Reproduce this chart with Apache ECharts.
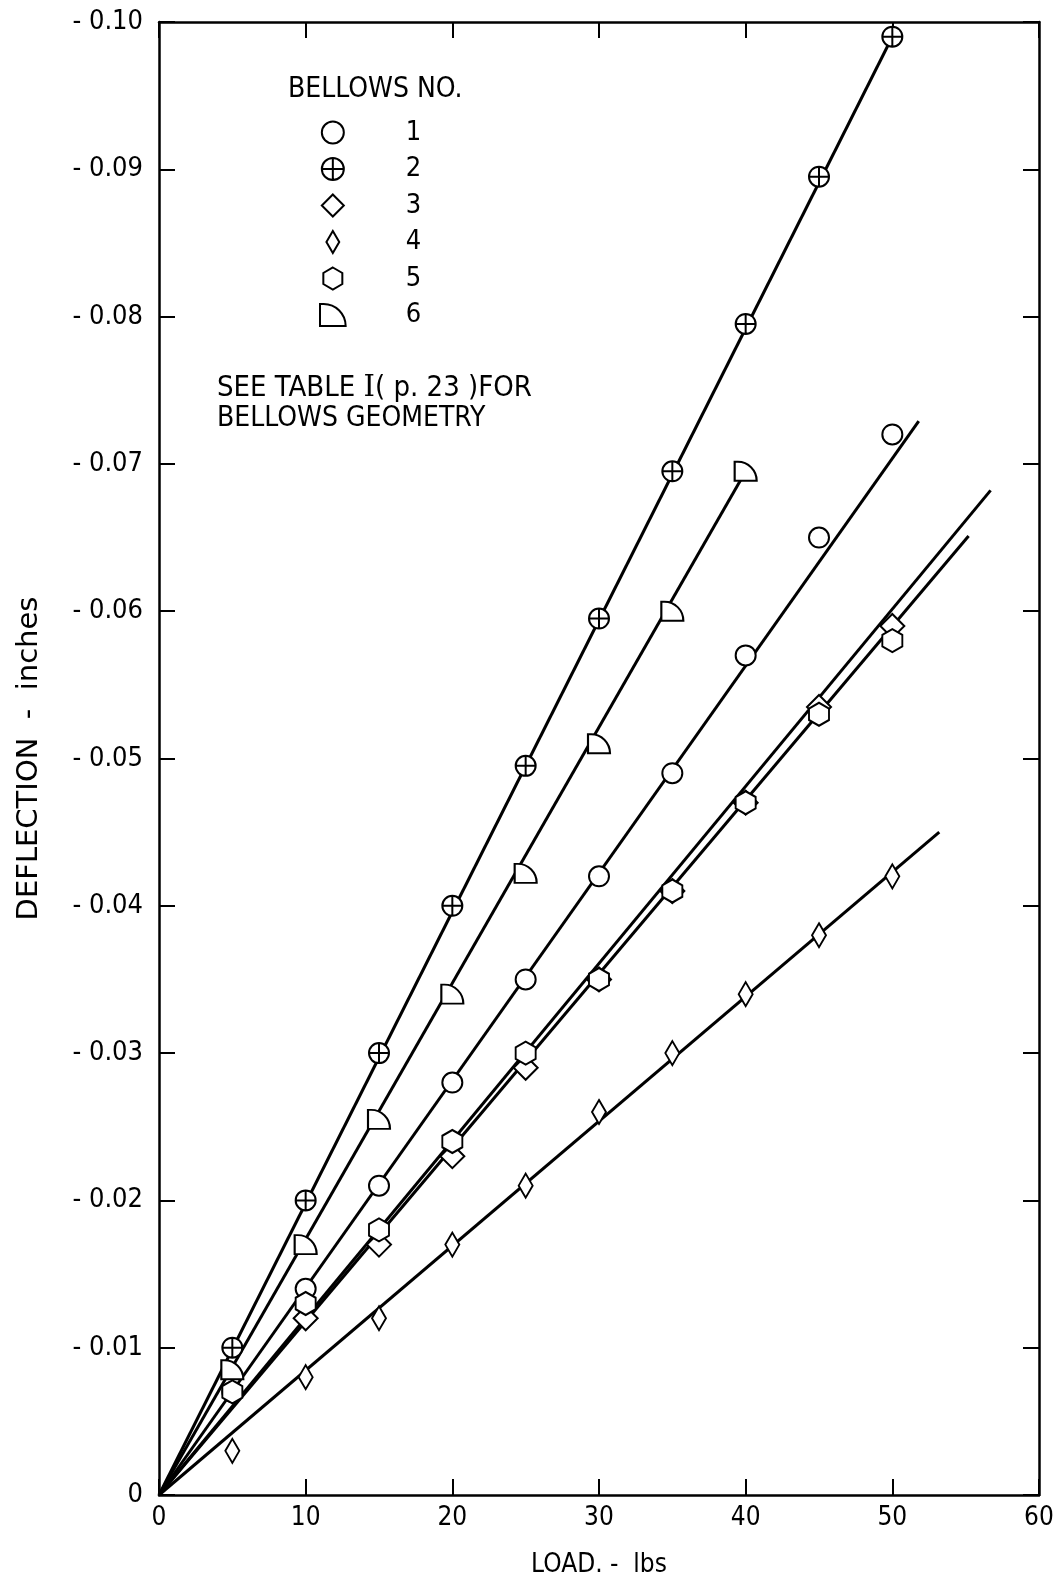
<!DOCTYPE html>
<html>
<head>
<meta charset="utf-8">
<title>Bellows deflection vs load</title>
<script src="https://cdn.jsdelivr.net/npm/echarts@6/dist/echarts.min.js"></script>
<style>
  html, body { margin: 0; padding: 0; background: #fff; }
  #chart { width: 1058px; height: 1583px; }
</style>
</head>
<body>
<div id="chart"></div>
<script>
// Load applied to each bellows (lbs)
const loads = [5, 10, 15, 20, 25, 30, 35, 40, 45, 50];

// Measured deflection (inches) per bellows, one value per load
const bellows1 = [-0.007, -0.014, -0.021, -0.028, -0.035, -0.042, -0.049, -0.057, -0.065, -0.072];
const bellows2 = [-0.010, -0.020, -0.030, -0.040, -0.0495, -0.0595, -0.0695, -0.0795, -0.0895, -0.099];
const bellows3 = [null, -0.012, -0.017, -0.023, -0.029, -0.035, -0.041, -0.047, -0.0535, -0.059];
const bellows4 = [-0.003, -0.008, -0.012, -0.017, -0.021, -0.026, -0.030, -0.034, -0.038, -0.042];
const bellows5 = [-0.007, -0.013, -0.018, -0.024, -0.030, -0.035, -0.041, -0.047, -0.053, -0.058];
const bellows6 = [-0.0085, -0.017, -0.0255, -0.034, -0.0422, -0.051, -0.060, -0.0695];

// Straight-line fits through the origin: far end of each line [load, deflection]
const fitEnd1 = [51.8, -0.0729];
const fitEnd2 = [50, -0.099];
const fitEnd3 = [55.2, -0.0651];
const fitEnd4 = [53.2, -0.045];
const fitEnd5 = [56.7, -0.0682];
const fitEnd6 = [40, -0.0695];

// Axis tick values
const xTicks = [0, 10, 20, 30, 40, 50, 60];
const yTicks = [0, -0.01, -0.02, -0.03, -0.04, -0.05, -0.06, -0.07, -0.08, -0.09, -0.10];

const NARROW = "'DejaVu Sans Condensed', 'Liberation Sans Narrow', 'Liberation Sans', sans-serif";
const WIDE = "'DejaVu Sans', 'Liberation Sans', sans-serif";
const INK = '#000';

// Marker shapes for each bellows
const SYM = {
  '1': 'path://M10,0A10,10 0 1 1 -10,0A10,10 0 1 1 10,0Z',
  '2': 'path://M10,0A10,10 0 1 1 -10,0A10,10 0 1 1 10,0Z M0,-10L0,10 M-10,0L10,0',
  '3': 'path://M0,-12L12,0L0,12L-12,0Z',
  '4': 'path://M0,-12L7,0L0,12L-7,0Z',
  '5': 'path://M0,-11L9.5,-5.5L9.5,5.5L0,11L-9.5,5.5L-9.5,-5.5Z',
  '6': 'path://M0,0L0,-18L3,-18A18,18 0 0 1 21,0Z'
};
const SIZE = { '1': 20, '2': 20, '3': [24, 24], '4': [14, 24], '5': [20, 23], '6': [22, 19] };

function pairs(vals) {
  const out = [];
  vals.forEach((v, i) => { if (v !== null) out.push([loads[i], v]); });
  return out;
}

const groups = [
  { name: '1', vals: bellows1, end: fitEnd1 },
  { name: '2', vals: bellows2, end: fitEnd2 },
  { name: '3', vals: bellows3, end: fitEnd3 },
  { name: '4', vals: bellows4, end: fitEnd4 },
  { name: '5', vals: bellows5, end: fitEnd5 },
  { name: '6', vals: bellows6, end: fitEnd6 }
];

const series = [];
groups.forEach(g => {
  series.push({
    name: 'fit' + g.name,
    type: 'line',
    data: [[0, 0], g.end],
    showSymbol: false,
    silent: true,
    z: 2,
    lineStyle: { color: INK, width: 3 }
  });
});
groups.forEach(g => {
  series.push({
    name: g.name,
    type: 'scatter',
    data: pairs(g.vals),
    symbol: SYM[g.name],
    symbolSize: SIZE[g.name],
    z: 5,
    itemStyle: { color: '#fff', borderColor: INK, borderWidth: 2, opacity: 1 }
  });
});

const axisLine = { show: true, onZero: false, lineStyle: { color: INK, width: 2.5 } };
const axisTick = { show: true, inside: true, length: 16, lineStyle: { color: INK, width: 2 } };

const chart = echarts.init(document.getElementById('chart'), null, { renderer: 'canvas' });
chart.setOption({
  backgroundColor: '#fff',
  animation: false,
  grid: { left: 159, top: 22, width: 880, height: 1474 },
  legend: {
    data: groups.map(g => g.name),
    orient: 'vertical',
    left: 314,
    top: 114,
    itemWidth: 136,
    itemHeight: 22,
    itemGap: 9.5,
    selectedMode: false,
    textStyle: { color: INK, fontSize: 27, fontFamily: NARROW },
    itemStyle: { color: '#fff', borderColor: INK, borderWidth: 2 }
  },
  graphic: [
    { type: 'text', left: 288, top: 76, style: { text: 'BELLOWS NO.', fontSize: 28, fontFamily: NARROW, fill: INK } },
    {
      type: 'text', left: 217, top: 374,
      style: {
        text: 'SEE TABLE {r|I}( p. 23 )FOR', fontSize: 29, fontFamily: NARROW, fill: INK,
        rich: { r: { fontSize: 29, fontFamily: "'DejaVu Serif', serif", fill: INK } }
      }
    },
    { type: 'text', left: 217, top: 405, style: { text: 'BELLOWS GEOMETRY', fontSize: 28, fontFamily: NARROW, fill: INK } }
  ],
  xAxis: [
    {
      type: 'value', position: 'bottom', min: xTicks[0], max: xTicks[xTicks.length - 1], interval: 10,
      axisLine, axisTick, splitLine: { show: false },
      axisLabel: { color: INK, fontSize: 26, fontFamily: NARROW, margin: 10 },
      name: 'LOAD. -  lbs', nameLocation: 'middle', nameGap: 57,
      nameTextStyle: { color: INK, fontSize: 26, fontFamily: NARROW }
    },
    {
      type: 'value', position: 'top', min: xTicks[0], max: xTicks[xTicks.length - 1], interval: 10,
      axisLine, axisTick, splitLine: { show: false }, axisLabel: { show: false }
    }
  ],
  yAxis: [
    {
      type: 'value', position: 'left', inverse: true,
      min: yTicks[yTicks.length - 1], max: yTicks[0], interval: 0.01,
      axisLine, axisTick, splitLine: { show: false },
      axisLabel: {
        color: INK, fontSize: 27, fontFamily: NARROW, margin: 16,
        formatter: v => Math.abs(v) < 1e-9 ? '0' : '- ' + Math.abs(v).toFixed(2)
      },
      name: 'DEFLECTION  -  inches', nameLocation: 'middle', nameGap: 115, nameRotate: 90,
      nameTextStyle: { color: INK, fontSize: 29, fontFamily: WIDE }
    },
    {
      type: 'value', position: 'right', inverse: true,
      min: yTicks[yTicks.length - 1], max: yTicks[0], interval: 0.01,
      axisLine, axisTick, splitLine: { show: false }, axisLabel: { show: false }
    }
  ],
  series
});
</script>
</body>
</html>
